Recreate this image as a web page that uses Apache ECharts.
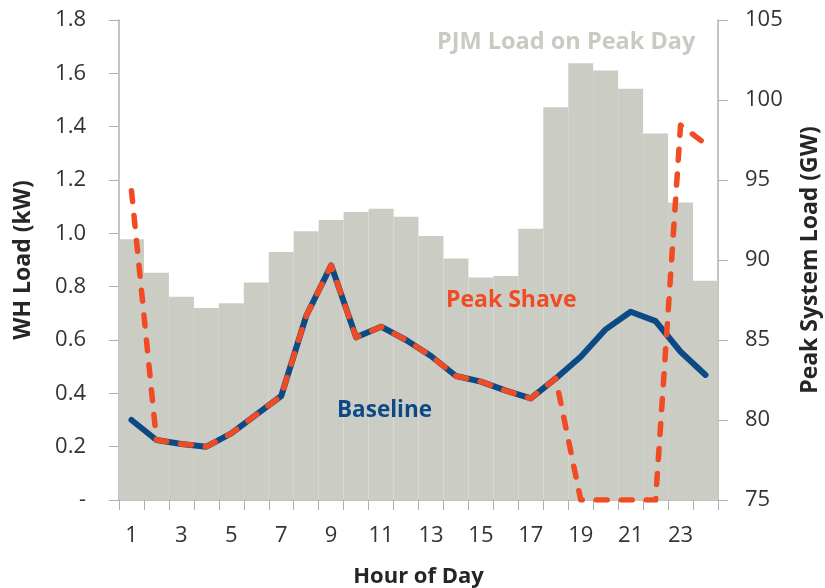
<!DOCTYPE html>
<html>
<head>
<meta charset="utf-8">
<script src="https://cdn.jsdelivr.net/npm/echarts@6/dist/echarts.min.js"></script>
<style>
  html, body { margin: 0; padding: 0; background: #fff; }
  #chart { width: 825px; height: 588px; }
</style>
</head>
<body>
<div id="chart"></div>
<script>
  // hours 1..24
  var hours = [1,2,3,4,5,6,7,8,9,10,11,12,13,14,15,16,17,18,19,20,21,22,23,24];
  // PJM load on peak day (GW), right axis
  var pjmLoad = [91.3,89.2,87.7,87.0,87.3,88.6,90.5,91.8,92.5,93.0,93.2,92.7,
                 91.5,90.1,88.9,89.0,91.95,99.55,102.3,101.85,100.7,97.9,93.6,88.7];
  // water heater load (kW), left axis
  var baseline = [0.30,0.225,0.21,0.20,0.25,0.32,0.39,0.69,0.88,0.61,0.65,0.60,
                  0.54,0.465,0.444,0.41,0.381,0.456,0.537,0.64,0.706,0.671,0.556,0.469];
  var peakShave = [1.16,0.225,0.21,0.20,0.25,0.32,0.39,0.69,0.88,0.61,0.65,0.60,
                   0.54,0.465,0.444,0.41,0.381,0.456,0,0,0,0,1.406,1.335];

  var font = '"Open Sans", sans-serif';
  var myChart = echarts.init(document.getElementById('chart'));
  var option = {
    animation: false,
    textStyle: { fontFamily: font },
    grid: { left: 119, right: 107, top: 20, bottom: 88, outerBoundsMode: 'none' },
    xAxis: {
      type: 'category',
      data: hours,
      name: 'Hour of Day',
      nameLocation: 'middle',
      nameGap: 66,
      nameTextStyle: { fontSize: 22, fontWeight: 'bold', color: '#262626' },
      axisLine: { lineStyle: { color: '#b0b0b0', width: 1.5 } },
      axisTick: { show: true, interval: 0, length: 10, lineStyle: { color: '#b0b0b0' } },
      axisLabel: { interval: 1, margin: 25, fontSize: 22, color: '#333' }
    },
    yAxis: [
      {
        type: 'value',
        min: 0, max: 1.8, interval: 0.2,
        name: 'WH Load (kW)',
        nameLocation: 'middle',
        nameRotate: 90,
        nameGap: 84,
        nameTextStyle: { fontSize: 23, fontWeight: 'bold', color: '#262626' },
        axisLine: { show: true, lineStyle: { color: '#b0b0b0', width: 1.5 } },
        axisTick: { show: true, length: 10, lineStyle: { color: '#b0b0b0' } },
        splitLine: { show: false },
        axisLabel: {
          margin: 33, fontSize: 22, color: '#333',
          formatter: function (v) { return v === 0 ? '-' : v.toFixed(1); }
        }
      },
      {
        type: 'value',
        min: 75, max: 105, interval: 5,
        name: 'Peak System Load (GW)',
        nameLocation: 'middle',
        nameRotate: 90,
        nameGap: 81,
        nameTextStyle: { fontSize: 23, fontWeight: 'bold', color: '#262626' },
        axisLine: { show: true, lineStyle: { color: '#b0b0b0', width: 1.5 } },
        axisTick: { show: true, length: 10, lineStyle: { color: '#b0b0b0' } },
        splitLine: { show: false },
        axisLabel: { margin: 27, fontSize: 22, color: '#333' }
      }
    ],
    series: [
      {
        name: 'PJM Load on Peak Day',
        type: 'bar',
        yAxisIndex: 1,
        data: pjmLoad,
        barCategoryGap: 0,
        itemStyle: { color: '#cbccc3' }
      },
      {
        name: 'Baseline',
        type: 'line',
        data: baseline,
        showSymbol: false,
        lineStyle: { color: '#0c4a86', width: 6, join: 'round', cap: 'round' }
      },
      {
        name: 'Peak Shave',
        type: 'line',
        data: peakShave,
        showSymbol: false,
        lineStyle: { color: '#f04b22', width: 5.5, type: [11, 14], cap: 'round', join: 'round' }
      }
    ],
    graphic: [
      { type: 'text', left: 437, top: 30, z: 100,
        style: { text: 'PJM Load on Peak Day', fontFamily: font, fontSize: 23.5, fontWeight: 'bold', fill: '#c9cac1' } },
      { type: 'text', left: 446, top: 289, z: 100,
        style: { text: 'Peak Shave', fontFamily: font, fontSize: 23, fontWeight: 'bold', fill: '#f04b22' } },
      { type: 'text', left: 337, top: 399, z: 100,
        style: { text: 'Baseline', fontFamily: font, fontSize: 22.5, fontWeight: 'bold', fill: '#0c4a86' } }
    ]
  };
  option && myChart.setOption(option);
</script>
</body>
</html>
